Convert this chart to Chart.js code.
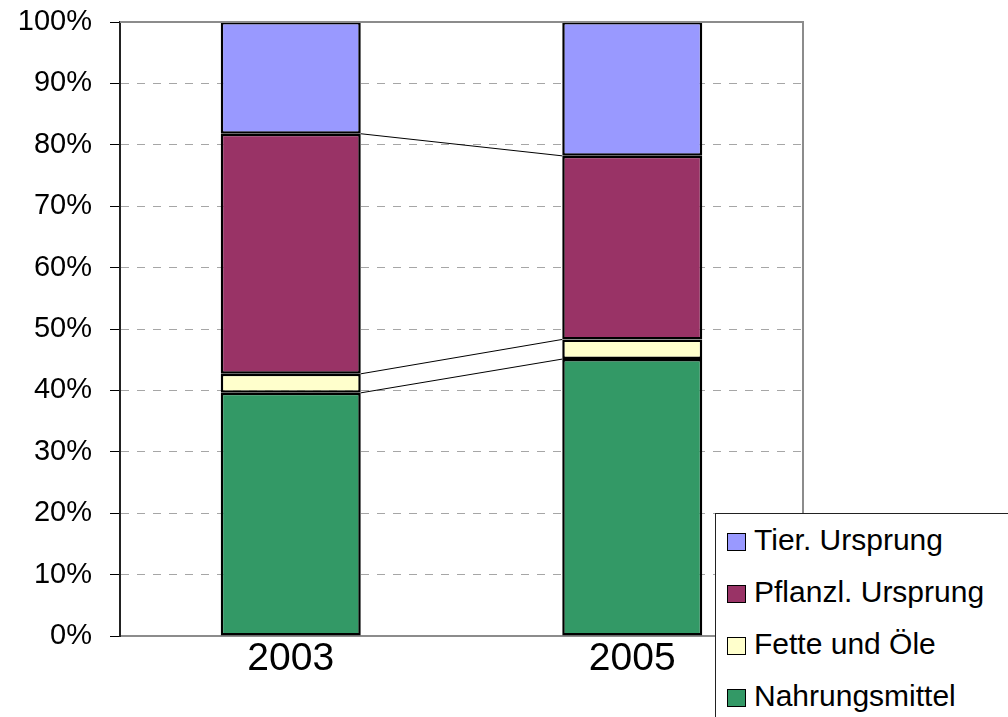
<!DOCTYPE html>
<html>
<head>
    <title>Nahrungsmittel Anteile</title>
    <script src="https://cdn.jsdelivr.net/npm/chart.js"></script>
    <style>
        body { margin: 0; overflow: hidden; background: #fff; }
        .wrap { position: relative; width: 1008px; height: 717px; }
        .legend {
            position: absolute; left: 715px; top: 513px; width: 320px; height: 240px;
            border: 1px solid #222; background: #fff;
            font-family: "Liberation Sans", Arial, sans-serif; font-size: 30px; color: #000;
        }
        .legend div { position: absolute; left: 11px; height: 36px; line-height: 36px; white-space: nowrap; }
        .legend span {
            display: inline-block; width: 17px; height: 16px; border: 1.5px solid #000;
            margin-right: 8px; vertical-align: -1px;
        }
    </style>
</head>
<body>
<div class="wrap">
    <canvas id="chart" width="1008" height="717"></canvas>
    <div class="legend" id="legend"></div>
</div>

<script>
    const years = ['2003', '2005'];
    const nahrungsmittel = [39.6, 45.1];
    const fetteUndOele = [3.1, 3.2];
    const pflanzlUrsprung = [39.1, 29.9];
    const tierUrsprung = [18.2, 21.8];
    const yTicks = [0, 10, 20, 30, 40, 50, 60, 70, 80, 90, 100];

    const series = [
        { label: 'Nahrungsmittel', data: nahrungsmittel, color: '#339966' },
        { label: 'Fette und Öle', data: fetteUndOele, color: '#FFFFCC' },
        { label: 'Pflanzl. Ursprung', data: pflanzlUrsprung, color: '#993366' },
        { label: 'Tier. Ursprung', data: tierUrsprung, color: '#9999FF' }
    ];

    // frame around plot + series lines between the stacks
    const extras = {
        id: 'extras',
        beforeDatasetsDraw(chart) {
            const ctx = chart.ctx;
            const n = chart.data.datasets.length;
            ctx.save();
            ctx.strokeStyle = '#000';
            ctx.lineWidth = 1;
            for (let d = 0; d < n - 1; d++) {
                const bars = chart.getDatasetMeta(d).data;
                for (let i = 0; i < bars.length - 1; i++) {
                    const a = bars[i], b = bars[i + 1];
                    ctx.beginPath();
                    ctx.moveTo(a.x + a.width / 2, a.y);
                    ctx.lineTo(b.x - b.width / 2, b.y);
                    ctx.stroke();
                }
            }
            ctx.restore();
        },
        afterDraw(chart) {
            const { ctx, chartArea } = chart;
            ctx.save();
            ctx.strokeStyle = '#8c8c8c';
            ctx.lineWidth = 2;
            ctx.beginPath();
            ctx.moveTo(chartArea.left, chartArea.top);
            ctx.lineTo(chartArea.right, chartArea.top);
            ctx.lineTo(chartArea.right, chartArea.bottom);
            ctx.stroke();
            ctx.restore();
        }
    };

    new Chart(document.getElementById('chart'), {
        type: 'bar',
        data: {
            labels: years,
            datasets: series.map(s => ({
                label: s.label,
                data: s.data,
                backgroundColor: s.color,
                borderColor: '#000',
                borderWidth: 2.5,
                borderSkipped: false,
                inflateAmount: 0,
                categoryPercentage: 1,
                barPercentage: 0.41
            }))
        },
        options: {
            responsive: false,
            animation: false,
            layout: { padding: { top: 22, right: 205, left: 0, bottom: 0 } },
            plugins: {
                legend: { display: false },
                tooltip: { enabled: false }
            },
            scales: {
                x: {
                    stacked: true,
                    afterFit: s => { s.height = 81; s.paddingLeft = 0; s.paddingRight = 0; },
                    grid: { display: false },
                    border: { color: '#8c8c8c', width: 2 },
                    ticks: {
                        color: '#000',
                        padding: -8,
                        font: { family: 'Liberation Sans', size: 39 }
                    }
                },
                y: {
                    stacked: true,
                    min: 0,
                    max: 100,
                    afterFit: s => { s.width = 120; s.paddingTop = 0; s.paddingBottom = 0; },
                    afterBuildTicks: s => { s.ticks = yTicks.map(v => ({ value: v })); },
                    grid: {
                        color: '#a6a6a6',
                        tickColor: '#000',
                        tickLength: 10,
                        tickBorderDash: []
                    },
                    border: { color: '#222', width: 2, dash: [8, 8] },
                    ticks: {
                        color: '#000',
                        padding: 18,
                        font: { family: 'Liberation Sans', size: 29 },
                        callback: v => v + '%'
                    }
                }
            }
        },
        plugins: [extras]
    });

    // legend, top entry = top of stack
    const legend = document.getElementById('legend');
    series.slice().reverse().forEach((s, i) => {
        const row = document.createElement('div');
        row.style.top = (8 + i * 52) + 'px';
        row.innerHTML = '<span style="background:' + s.color + '"></span>' + s.label;
        legend.appendChild(row);
    });
</script>
</body>
</html>
